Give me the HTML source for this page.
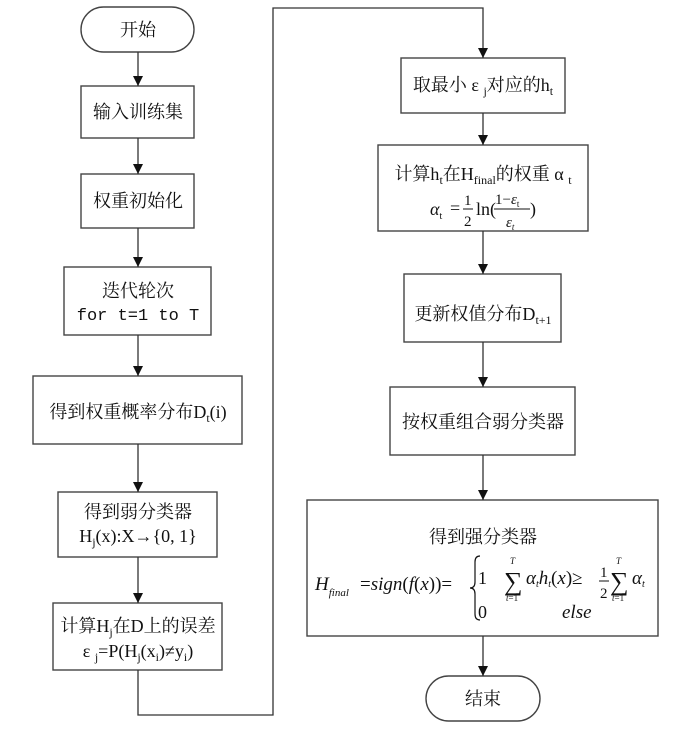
<!DOCTYPE html>
<html><head><meta charset="utf-8"><style>
html,body{margin:0;padding:0;background:#fff;}
svg{display:block;}
text{font-family:"Liberation Serif","Noto Serif CJK SC",serif;fill:#111;}
.m{font-family:"Liberation Mono","Noto Serif CJK SC",monospace;}
.i{font-style:italic;font-family:"Liberation Serif",serif;}
</style></head><body>
<svg width="679" height="751" viewBox="0 0 679 751" xmlns="http://www.w3.org/2000/svg" font-size="18">
<defs><marker id="a" markerWidth="10" markerHeight="10" refX="10" refY="5" orient="auto" markerUnits="userSpaceOnUse" viewBox="0 0 10 10"><path d="M0,0 L10,5 L0,10 z" fill="#111"/></marker></defs>
<g fill="none" stroke="#444" stroke-width="1.4">
<rect x="81" y="7" width="113" height="45" rx="22.5"/>
<rect x="81" y="86" width="113" height="52"/>
<rect x="81" y="174" width="113" height="54"/>
<rect x="64" y="267" width="147" height="68"/>
<rect x="33" y="376" width="209" height="68"/>
<rect x="58" y="492" width="159" height="65"/>
<rect x="53" y="603" width="169" height="67"/>
<rect x="401" y="58" width="164" height="55"/>
<rect x="378" y="145" width="210" height="86"/>
<rect x="404" y="274" width="157" height="68"/>
<rect x="390" y="387" width="185" height="68"/>
<rect x="307" y="500" width="351" height="136"/>
<rect x="426" y="676" width="114" height="45" rx="22.5"/>
</g>
<g stroke="#333" stroke-width="1.3" fill="none" marker-end="url(#a)">
<line x1="138" y1="52" x2="138" y2="86"/>
<line x1="138" y1="138" x2="138" y2="174"/>
<line x1="138" y1="228" x2="138" y2="267"/>
<line x1="138" y1="335" x2="138" y2="376"/>
<line x1="138" y1="444" x2="138" y2="492"/>
<line x1="138" y1="557" x2="138" y2="603"/>
<polyline points="138,670 138,715 273,715 273,8 483,8 483,58"/>
<line x1="483" y1="113" x2="483" y2="145"/>
<line x1="483" y1="231" x2="483" y2="274"/>
<line x1="483" y1="342" x2="483" y2="387"/>
<line x1="483" y1="455" x2="483" y2="500"/>
<line x1="483" y1="636" x2="483" y2="676"/>
</g>
<g text-anchor="middle">
<text x="138" y="36">开始</text>
<text x="138" y="118">输入训练集</text>
<text x="138" y="207">权重初始化</text>
<text x="138" y="297">迭代轮次</text>
<text x="138" y="320" class="m" font-size="17">for t=1 to T</text>
<text x="138" y="418">得到权重概率分布D<tspan font-size="12" dy="4">t</tspan><tspan dy="-4">(i)</tspan></text>
<text x="138" y="518">得到弱分类器</text>
<text x="138" y="542">H<tspan font-size="12" dy="4">j</tspan><tspan dy="-4">(x):X→{0, 1}</tspan></text>
<text x="138" y="632">计算H<tspan font-size="12" dy="4">j</tspan><tspan dy="-4">在D上的误差</tspan></text>
<text x="138" y="657">ε <tspan font-size="12" dy="4">j</tspan><tspan dy="-4">=P(H</tspan><tspan font-size="12" dy="4">j</tspan><tspan dy="-4">(x</tspan><tspan font-size="12" dy="4">i</tspan><tspan dy="-4">)≠y</tspan><tspan font-size="12" dy="4">i</tspan><tspan dy="-4">)</tspan></text>
<text x="483" y="91">取最小 ε <tspan font-size="12" dy="4">j</tspan><tspan dy="-4">对应的h</tspan><tspan font-size="12" dy="4">t</tspan></text>
<text x="483" y="180">计算h<tspan font-size="12" dy="4">t</tspan><tspan dy="-4">在H</tspan><tspan font-size="12" dy="4">final</tspan><tspan dy="-4">的权重 α </tspan><tspan font-size="12" dy="4">t</tspan></text>
<text x="483" y="320">更新权值分布D<tspan font-size="12" dy="4">t+1</tspan></text>
<text x="483" y="428">按权重组合弱分类器</text>
<text x="483" y="543">得到强分类器</text>
<text x="483" y="705">结束</text>
</g>
<!-- alpha formula -->
<text x="430" y="215" class="i" font-size="18">α<tspan font-size="10" font-style="normal" dy="4">t</tspan></text>
<text x="450" y="214" font-size="18">=</text>
<text x="464" y="205" font-size="15">1</text>
<line x1="463" y1="209" x2="473" y2="209" stroke="#111" stroke-width="1"/>
<text x="464" y="226" font-size="15">2</text>
<text x="476" y="215" font-size="18">ln(</text>
<text x="495" y="204" font-size="15">1−<tspan class="i">ε</tspan><tspan font-size="9" dy="3">t</tspan></text>
<line x1="494" y1="209" x2="530" y2="209" stroke="#111" stroke-width="1"/>
<text x="506" y="227" font-size="15" class="i">ε<tspan font-size="9" dy="3">t</tspan></text>
<text x="530" y="215" font-size="18">)</text>
<!-- final formula -->
<text x="315" y="590" class="i" font-size="19">H<tspan font-size="11" dy="6">final</tspan></text>
<text x="360" y="590" font-size="19">=<tspan class="i">sign</tspan>(<tspan class="i">f</tspan>(<tspan class="i">x</tspan>))=</text>
<path d="M480,556 q-5,0 -5,6 v20 q0,6 -5,6 q5,0 5,6 v20 q0,6 5,6" fill="none" stroke="#111" stroke-width="1.2"/>
<text x="478" y="584" font-size="18">1</text>
<text x="478" y="618" font-size="18">0</text>
<text x="504" y="590" font-size="26">∑</text>
<text x="510" y="564" font-size="9" class="i">T</text>
<text x="506" y="601" font-size="9"><tspan class="i">t</tspan>=1</text>
<text x="526" y="584" class="i" font-size="19">α<tspan font-size="10" dy="3">t</tspan><tspan dy="-3">h</tspan><tspan font-size="10" dy="3">t</tspan><tspan dy="-3" font-style="normal">(</tspan>x<tspan font-style="normal">)≥</tspan></text>
<text x="600" y="577" font-size="15">1</text>
<line x1="599" y1="581" x2="609" y2="581" stroke="#111" stroke-width="1"/>
<text x="600" y="598" font-size="15">2</text>
<text x="610" y="590" font-size="26">∑</text>
<text x="616" y="564" font-size="9" class="i">T</text>
<text x="612" y="601" font-size="9"><tspan class="i">t</tspan>=1</text>
<text x="632" y="584" class="i" font-size="19">α<tspan font-size="10" dy="3">t</tspan></text>
<text x="562" y="618" class="i" font-size="19">else</text>
</svg>
</body></html>
